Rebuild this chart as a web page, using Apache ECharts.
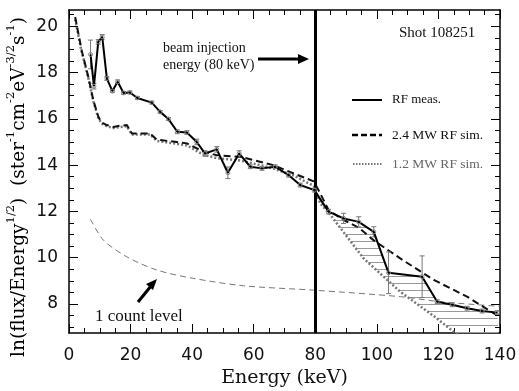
<!DOCTYPE html>
<html>
<head>
<meta charset="utf-8">
<script src="https://cdn.jsdelivr.net/npm/echarts@6/dist/echarts.min.js"></script>
<style>html,body{margin:0;padding:0;background:#fff}#c{width:519px;height:391px}</style>
</head>
<body>
<div id="c"></div>
<script>
// ---- data ----
const measE = [7.0, 8.1, 9.5, 10.8, 12.3, 14.1, 15.8, 17.7, 19.8, 22.2, 26.9, 29.6, 32.3, 35.2, 38.3, 41.5, 44.2, 48.0, 51.6, 55.3, 58.9, 62.7, 67.0, 71.3, 75.1, 79.7, 84.3, 89.2, 94.1, 99.0, 103.8, 114.7, 119.6, 124.5, 129.3, 134.2, 139.1];
const measV = [18.78, 17.41, 19.32, 19.54, 17.74, 17.2, 17.6, 17.12, 17.14, 16.9, 16.7, 16.3, 15.99, 15.44, 15.41, 15.0, 14.5, 14.68, 13.67, 14.5, 13.93, 13.86, 13.93, 13.57, 13.14, 12.92, 11.99, 11.70, 11.55, 11.12, 9.35, 9.18, 8.1, 7.97, 7.82, 7.7, 7.63];
const measErr = [0.62, 0.12, 0.1, 0.1, 0.08, 0.06, 0.08, 0.06, 0.06, 0.06, 0.06, 0.06, 0.06, 0.08, 0.08, 0.12, 0.12, 0.12, 0.25, 0.12, 0.08, 0.08, 0.08, 0.08, 0.08, 0.08, 0.1, 0.22, 0.22, 0.22, 0.9, 0.9, 0.08, 0.08, 0.08, 0.08, 0.08];

const sim24E = [2.0, 4.1, 6.3, 7.9, 9.5, 10.5, 12.3, 14.4, 16.5, 18.8, 20.4, 26.3, 28.5, 35.0, 38.3, 43.7, 48.0, 55.6, 62.0, 66.4, 73.0, 79.5, 81.6, 84.3, 89.2, 94.1, 99.0, 107.6, 118.5, 129.3, 140.0];
const sim24V = [20.4, 18.96, 17.8, 16.8, 16.1, 15.85, 15.73, 15.65, 15.7, 15.73, 15.37, 15.37, 15.1, 15.0, 14.94, 14.58, 14.43, 14.36, 14.15, 14.0, 13.64, 13.3, 12.78, 12.06, 11.63, 11.3, 10.75, 9.97, 9.04, 8.32, 7.43];

const sim12E = [2.0, 4.1, 6.3, 7.9, 9.5, 10.5, 12.3, 14.4, 18.8, 20.4, 26.3, 28.5, 35.0, 38.3, 43.7, 48.0, 55.6, 62.0, 66.4, 73.0, 79.5, 81.6, 84.9, 89.2, 95.7, 107.6, 118.5, 125.5, 140.0];
const sim12V = [20.3, 18.9, 17.75, 16.75, 16.05, 15.8, 15.68, 15.6, 15.68, 15.32, 15.32, 15.05, 14.92, 14.85, 14.45, 14.3, 14.2, 14.0, 13.85, 13.55, 13.1, 12.35, 11.85, 11.1, 9.97, 8.53, 7.48, 6.75, 5.5];

const countE = [7.0, 11.2, 18.8, 28.5, 40.4, 56.7, 79.5, 107.6, 120.7, 140.0];
const countV = [11.66, 10.76, 10.04, 9.47, 9.11, 8.79, 8.6, 8.32, 8.1, 7.9];

const injectionEnergy = 80;
const hatchFrom = 79;

const xTickLabels = [0, 20, 40, 60, 80, 100, 120, 140];
const yTickLabels = [8, 10, 12, 14, 16, 18, 20];
const yMinorTicks = [7, 7.5, 8, 8.5, 9, 9.5, 10, 10.5, 11, 11.5, 12, 12.5, 13, 13.5, 14, 14.5, 15, 15.5, 16, 16.5, 17, 17.5, 18, 18.5, 19, 19.5, 20, 20.5];

// ---- helpers ----
const zip = (a, b) => a.map((v, i) => [v, b[i]]);

const hatchCanvas = document.createElement('canvas');
hatchCanvas.width = 8; hatchCanvas.height = 7;
(function () {
  const g = hatchCanvas.getContext('2d');
  g.fillStyle = '#9a9a9a';
  g.fillRect(0, 3, 8, 1);
})();

const chart = echarts.init(document.getElementById('c'), null, { renderer: 'canvas' });

const tickFont = { fontFamily: 'DejaVu Sans', fontSize: 17, color: '#111' };
const yMin = 6.75, yMax = 20.7;

function yAx(pos, major, labels) {
  return {
    type: 'value', position: pos, min: yMin, max: yMax,
    axisLine: { show: major, lineStyle: { color: '#000', width: 1.5 } },
    axisTick: { show: true, inside: true, length: major ? 9 : 5, customValues: major ? yTickLabels : yMinorTicks, lineStyle: { color: '#000', width: 1 } },
    axisLabel: labels ? Object.assign({ show: true, customValues: yTickLabels, margin: 11 }, tickFont) : { show: false },
    splitLine: { show: false }
  };
}
function xAx(pos, labels) {
  return {
    type: 'value', position: pos, min: 0, max: 140, interval: 20,
    axisLine: { show: true, lineStyle: { color: '#000', width: 1.5 } },
    axisTick: { show: true, inside: true, length: 9, lineStyle: { color: '#000', width: 1 } },
    minorTick: { show: true, splitNumber: 4, length: 5, lineStyle: { color: '#000', width: 1 } },
    axisLabel: labels ? Object.assign({ show: true, margin: 14 }, tickFont) : { show: false },
    splitLine: { show: false },
    name: labels ? 'Energy (keV)' : '',
    nameLocation: 'middle', nameGap: 25,
    nameTextStyle: { fontFamily: 'DejaVu Serif', fontSize: 19, color: '#111' }
  };
}

const serif = 'Liberation Serif';

const option = {
  animation: false,
  backgroundColor: '#fff',
  grid: { left: 69, right: 19, top: 10, bottom: 58, containLabel: false, outerBoundsMode: 'none' },
  xAxis: [xAx('bottom', true), xAx('top', false)],
  yAxis: [yAx('left', true, true), yAx('left', false, false), yAx('right', true, false), yAx('right', false, false)],
  series: [
    {
      type: 'custom', name: 'hatch', clip: true, silent: true, z: 1,
      data: [[0, 0]],
      renderItem: function (params, api) {
        const pts = [];
        for (let i = 0; i < measE.length; i++) if (measE[i] >= hatchFrom) pts.push(api.coord([measE[i], measV[i]]));
        for (let i = sim12E.length - 1; i >= 0; i--) if (sim12E[i] >= hatchFrom) pts.push(api.coord([sim12E[i], sim12V[i]]));
        return { type: 'polygon', shape: { points: pts }, style: { fill: { image: hatchCanvas, repeat: 'repeat' }, stroke: null } };
      }
    },
    {
      type: 'line', name: '1 count level', data: zip(countE, countV), symbol: 'none', smooth: 0.3, z: 2,
      lineStyle: { color: '#777', width: 1, type: [6, 4] }
    },
    {
      type: 'line', name: '1.2 MW RF sim.', data: zip(sim12E, sim12V), symbol: 'none', z: 3,
      lineStyle: { color: '#777', width: 2.5, type: [2, 2] }
    },
    {
      type: 'line', name: '2.4 MW RF sim.', data: zip(sim24E, sim24V), symbol: 'none', z: 4,
      lineStyle: { color: '#111', width: 2, type: [7, 4] }
    },
    {
      type: 'custom', name: 'errors', clip: true, z: 5,
      data: measE.map((e, i) => [e, measV[i], measErr[i]]),
      renderItem: function (params, api) {
        const x = api.value(0), y = api.value(1), er = api.value(2);
        const p1 = api.coord([x, y + er]), p2 = api.coord([x, y - er]);
        const w = 2.5;
        const st = { stroke: '#777', lineWidth: 1 };
        return { type: 'group', children: [
          { type: 'line', shape: { x1: p1[0], y1: p1[1], x2: p2[0], y2: p2[1] }, style: st },
          { type: 'line', shape: { x1: p1[0] - w, y1: p1[1], x2: p1[0] + w, y2: p1[1] }, style: st },
          { type: 'line', shape: { x1: p2[0] - w, y1: p2[1], x2: p2[0] + w, y2: p2[1] }, style: st }
        ] };
      }
    },
    {
      type: 'line', name: 'RF meas.', data: zip(measE, measV), z: 6,
      symbol: 'circle', symbolSize: 4,
      itemStyle: { color: 'rgba(0,0,0,0)', borderColor: '#888', borderWidth: 1 },
      lineStyle: { color: '#000', width: 2 },
      markLine: {
        silent: true, symbol: 'none', label: { show: false },
        lineStyle: { color: '#000', width: 3, type: 'solid' },
        data: [{ xAxis: injectionEnergy }]
      }
    }
  ],
  graphic: [
    {
      type: 'text', x: 17, y: 187, rotation: Math.PI / 2,
      style: {
        text: '{a|ln(flux/Energy}{s|1/2}{a|)  (ster}{s|-1}{a|cm}{s|-2}{a|eV}{s|-3/2}{a|s}{s|-1}{a|)}',
        textAlign: 'center', textVerticalAlign: 'middle',
        rich: {
          a: { fontFamily: 'DejaVu Serif', fontSize: 18.5, color: '#111', lineHeight: 24, verticalAlign: 'bottom' },
          s: { fontFamily: 'DejaVu Serif', fontSize: 11.5, color: '#111', lineHeight: 24, verticalAlign: 'top' }
        }
      }
    },
    { type: 'text', x: 163, y: 48, style: { text: 'beam injection', fontFamily: serif, fontSize: 14, fill: '#111', textVerticalAlign: 'middle' } },
    { type: 'text', x: 163, y: 65, style: { text: 'energy (80 keV)', fontFamily: serif, fontSize: 14, fill: '#111', textVerticalAlign: 'middle' } },
    { type: 'line', shape: { x1: 258, y1: 59, x2: 300, y2: 59 }, style: { stroke: '#000', lineWidth: 3 } },
    { type: 'polygon', shape: { points: [[309, 59], [298, 54], [298, 64]] }, style: { fill: '#000' } },
    { type: 'text', x: 399, y: 33, style: { text: 'Shot 108251', fontFamily: serif, fontSize: 15, fill: '#111', textVerticalAlign: 'middle' } },
    { type: 'line', shape: { x1: 352, y1: 100, x2: 382, y2: 100 }, style: { stroke: '#000', lineWidth: 2 } },
    { type: 'text', x: 392, y: 100, style: { text: 'RF meas.', fontFamily: serif, fontSize: 13, fill: '#111', textVerticalAlign: 'middle' } },
    { type: 'line', shape: { x1: 352, y1: 135, x2: 382, y2: 135 }, style: { stroke: '#000', lineWidth: 2.5, lineDash: [6, 3] } },
    { type: 'text', x: 392, y: 135, style: { text: '2.4 MW RF sim.', fontFamily: serif, fontSize: 13.5, fill: '#111', textVerticalAlign: 'middle' } },
    { type: 'line', shape: { x1: 353, y1: 164, x2: 382, y2: 164 }, style: { stroke: '#777', lineWidth: 2, lineDash: [1.5, 1.5] } },
    { type: 'text', x: 392, y: 164, style: { text: '1.2 MW RF sim.', fontFamily: serif, fontSize: 13.5, fill: '#666', textVerticalAlign: 'middle' } },
    { type: 'text', x: 95, y: 317, style: { text: '1 count level', fontFamily: serif, fontSize: 17, fill: '#111', textVerticalAlign: 'middle' } },
    { type: 'line', shape: { x1: 138, y1: 302, x2: 151, y2: 286 }, style: { stroke: '#000', lineWidth: 3 } },
    { type: 'polygon', shape: { points: [[157, 279], [146, 284], [153, 290]] }, style: { fill: '#000' } }
  ]
};
chart.setOption(option);
</script>
</body>
</html>
